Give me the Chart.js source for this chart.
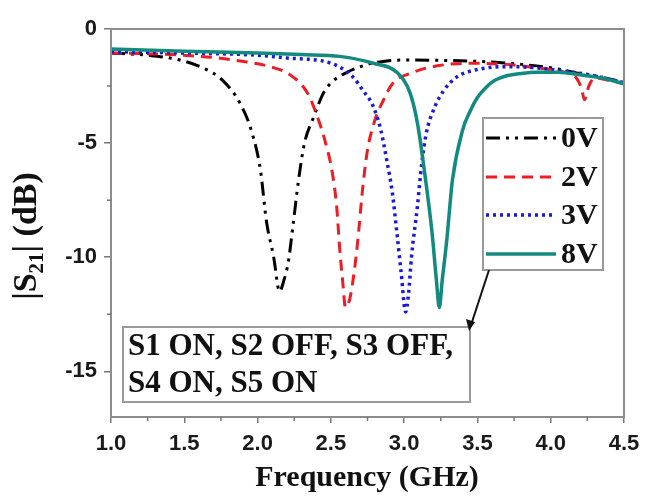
<!DOCTYPE html>
<html>
<head>
<meta charset="utf-8">
<script src="https://cdn.jsdelivr.net/npm/chart.js@4.4.1/dist/chart.umd.min.js"></script>
<style>
  html, body { margin: 0; padding: 0; background: #fff; }
  canvas { display: block; }
</style>
</head>
<body>
<canvas id="myChart" width="650" height="503"></canvas>
<script>
// data (frequency in GHz, |S21| in dB)
const freq0V = [1.0, 1.25, 1.47, 1.63, 1.76, 1.88, 1.96, 2.02, 2.06, 2.11, 2.15, 2.18, 2.21, 2.24, 2.28, 2.32, 2.38, 2.45, 2.52, 2.61, 2.75, 2.88, 3.0, 3.3, 3.6, 3.8, 4.0, 4.2, 4.35, 4.5];
const s21_0V = [-1.05, -1.15, -1.36, -1.71, -2.24, -3.25, -4.5, -6.2, -8.4, -10.0, -11.5, -11.0, -10.2, -8.7, -6.6, -5.0, -3.9, -2.8, -2.25, -1.9, -1.55, -1.4, -1.36, -1.38, -1.45, -1.55, -1.7, -1.95, -2.12, -2.35];

const freq2V = [1.0, 1.25, 1.47, 1.7, 1.93, 2.09, 2.22, 2.34, 2.40, 2.46, 2.51, 2.54, 2.56, 2.58, 2.60, 2.63, 2.66, 2.68, 2.72, 2.75, 2.80, 2.86, 2.92, 3.06, 3.24, 3.47, 3.7, 3.9, 4.1, 4.17, 4.21, 4.23, 4.26, 4.3, 4.4, 4.5];
const s21_2V = [-1.05, -1.08, -1.14, -1.25, -1.45, -1.66, -2.0, -2.8, -3.7, -4.9, -6.3, -7.8, -9.6, -11.0, -12.2, -11.8, -10.6, -9.5, -6.8, -5.3, -4.0, -3.1, -2.4, -1.9, -1.6, -1.5, -1.55, -1.7, -1.9, -2.1, -2.6, -3.1, -2.5, -2.15, -2.25, -2.4];

const freq3V = [1.0, 1.5, 2.0, 2.2, 2.5, 2.65, 2.72, 2.79, 2.84, 2.88, 2.92, 2.95, 2.98, 3.01, 3.03, 3.05, 3.09, 3.12, 3.15, 3.21, 3.27, 3.36, 3.52, 3.7, 3.9, 4.1, 4.3, 4.5];
const s21_3V = [-1.0, -1.05, -1.15, -1.27, -1.5, -2.1, -2.7, -3.4, -4.4, -5.7, -7.2, -8.9, -10.7, -12.4, -11.6, -10.0, -7.8, -5.9, -4.6, -3.4, -2.7, -2.1, -1.75, -1.65, -1.7, -1.85, -2.05, -2.35];

const freq8V = [1.0, 1.5, 2.0, 2.3, 2.56, 2.79, 2.95, 3.04, 3.09, 3.14, 3.19, 3.22, 3.24, 3.26, 3.29, 3.33, 3.40, 3.45, 3.50, 3.56, 3.62, 3.70, 3.80, 3.9, 4.05, 4.2, 4.35, 4.5];
const s21_8V = [-0.88, -0.98, -1.05, -1.12, -1.2, -1.5, -1.9, -2.8, -4.1, -6.3, -8.9, -11.0, -12.2, -11.0, -9.3, -6.6, -4.4, -3.6, -3.0, -2.55, -2.25, -2.05, -1.95, -1.9, -1.9, -2.0, -2.15, -2.4];

const seriesLabels = ['0V', '2V', '3V', '8V'];
const xTicks = [1.0, 1.5, 2.0, 2.5, 3.0, 3.5, 4.0, 4.5];
const xMinor = [1.25, 1.75, 2.25, 2.75, 3.25, 3.75, 4.25];
const yTicks = [0, -5, -10, -15];
const yMinor = [-2.5, -7.5, -12.5];
const noteLines = ['S1 ON, S2 OFF, S3 OFF,', 'S4 ON, S5 ON'];

const toPts = (xs, ys) => xs.map((x, i) => ({ x: x, y: ys[i] }));

const styles = [
  { color: '#000000', dash: [14, 6, 3, 6, 3, 6], width: 3 },
  { color: '#ee1c24', dash: [11, 7], width: 3 },
  { color: '#1a1ad6', dash: [3, 4], width: 3.5 },
  { color: '#138a80', dash: [], width: 3.5 }
];

const allData = [toPts(freq0V, s21_0V), toPts(freq2V, s21_2V), toPts(freq3V, s21_3V), toPts(freq8V, s21_8V)];

// frame, minor ticks, legend, note box, arrow, axis titles
const deco = {
  id: 'deco',
  afterDraw(chart) {
    const ctx = chart.ctx;
    const a = chart.chartArea;
    const x = chart.scales.x, y = chart.scales.y;
    ctx.save();

    ctx.strokeStyle = '#8c8c8c';
    ctx.lineWidth = 2;
    ctx.strokeRect(a.left, a.top, a.right - a.left, a.bottom - a.top);

    ctx.strokeStyle = '#777';
    ctx.lineWidth = 1.5;
    ctx.beginPath();
    xMinor.forEach(v => {
      const px = x.getPixelForValue(v);
      ctx.moveTo(px, a.bottom); ctx.lineTo(px, a.bottom + 4);
    });
    yMinor.forEach(v => {
      const py = y.getPixelForValue(v);
      ctx.moveTo(a.left, py); ctx.lineTo(a.left - 4, py);
    });
    ctx.stroke();

    // legend
    ctx.fillStyle = '#fff';
    ctx.fillRect(483, 118, 120, 152);
    ctx.strokeStyle = '#9a9a9a';
    ctx.lineWidth = 2;
    ctx.strokeRect(483, 118, 120, 152);
    const rows = [138, 177, 215, 254];
    ctx.font = 'bold 30px "Liberation Serif"';
    ctx.textBaseline = 'middle';
    ctx.textAlign = 'left';
    seriesLabels.forEach((lab, i) => {
      const s = styles[i];
      ctx.strokeStyle = s.color;
      ctx.lineWidth = s.width;
      ctx.setLineDash(s.dash);
      ctx.beginPath();
      ctx.moveTo(486, rows[i]); ctx.lineTo(556, rows[i]);
      ctx.stroke();
      ctx.setLineDash([]);
      ctx.fillStyle = '#111';
      ctx.fillText(lab, 561, rows[i] + 1);
    });

    // note box
    ctx.fillStyle = '#fff';
    ctx.fillRect(123, 327, 347, 75);
    ctx.strokeStyle = '#9a9a9a';
    ctx.lineWidth = 2;
    ctx.strokeRect(123, 327, 347, 75);
    ctx.fillStyle = '#111';
    ctx.font = 'bold 31px "Liberation Serif"';
    ctx.fillText(noteLines[0], 128, 347);
    ctx.fillText(noteLines[1], 128, 384);

    // arrow
    ctx.strokeStyle = '#111';
    ctx.lineWidth = 2;
    ctx.beginPath();
    ctx.moveTo(489, 270); ctx.lineTo(471, 325);
    ctx.stroke();
    ctx.fillStyle = '#111';
    ctx.beginPath();
    ctx.moveTo(469, 331); ctx.lineTo(466, 319); ctx.lineTo(475, 322);
    ctx.closePath(); ctx.fill();

    // x title
    ctx.font = 'bold 30px "Liberation Serif"';
    ctx.textAlign = 'center';
    ctx.fillText('Frequency (GHz)', 367, 478);

    // y title with subscript
    ctx.translate(36, 236);
    ctx.rotate(-Math.PI / 2);
    const big = 'bold 34px "Liberation Serif"', small = 'bold 21px "Liberation Serif"';
    ctx.textAlign = 'left';
    ctx.textBaseline = 'alphabetic';
    ctx.font = big; const w1 = ctx.measureText('|S').width, w3 = ctx.measureText('| (dB)').width;
    ctx.font = small; const w2 = ctx.measureText('21').width;
    let cx = -(w1 + w2 + w3) / 2;
    ctx.font = big; ctx.fillText('|S', cx, 0); cx += w1;
    ctx.font = small; ctx.fillText('21', cx, 7); cx += w2;
    ctx.font = big; ctx.fillText('| (dB)', cx, 0);

    ctx.restore();
  }
};

new Chart(document.getElementById('myChart'), {
  type: 'line',
  data: {
    datasets: seriesLabels.map((lab, i) => ({
      label: lab,
      data: allData[i],
      borderColor: styles[i].color,
      borderDash: styles[i].dash,
      borderWidth: styles[i].width,
      pointRadius: 0,
      fill: false,
      cubicInterpolationMode: 'monotone',
      order: 3 - i
    }))
  },
  options: {
    responsive: false,
    animation: false,
    devicePixelRatio: 1,
    layout: { padding: { top: 29, right: 26, left: 0, bottom: 0 } },
    plugins: {
      legend: { display: false },
      tooltip: { enabled: false }
    },
    scales: {
      x: {
        type: 'linear',
        min: 1.0,
        max: 4.5,
        afterFit: s => { s.height = 86; },
        afterBuildTicks: s => { s.ticks = xTicks.map(v => ({ value: v })); },
        grid: { display: true, drawOnChartArea: false, drawTicks: true, tickLength: 6, color: '#777', lineWidth: 1.5 },
        border: { display: false },
        ticks: {
          padding: 8,
          color: '#1a1a1a',
          font: { family: '"Liberation Sans"', size: 22, weight: 'bold' },
          callback: v => v.toFixed(1)
        }
      },
      y: {
        min: -17,
        max: 0,
        afterFit: s => { s.width = 111; },
        afterBuildTicks: s => { s.ticks = yTicks.map(v => ({ value: v })); },
        grid: { display: true, drawOnChartArea: false, drawTicks: true, tickLength: 7, color: '#777', lineWidth: 1.5 },
        border: { display: false },
        ticks: {
          padding: 7,
          color: '#1a1a1a',
          font: { family: '"Liberation Sans"', size: 22, weight: 'bold' },
          callback: v => String(v)
        }
      }
    }
  },
  plugins: [deco]
});
</script>
</body>
</html>
